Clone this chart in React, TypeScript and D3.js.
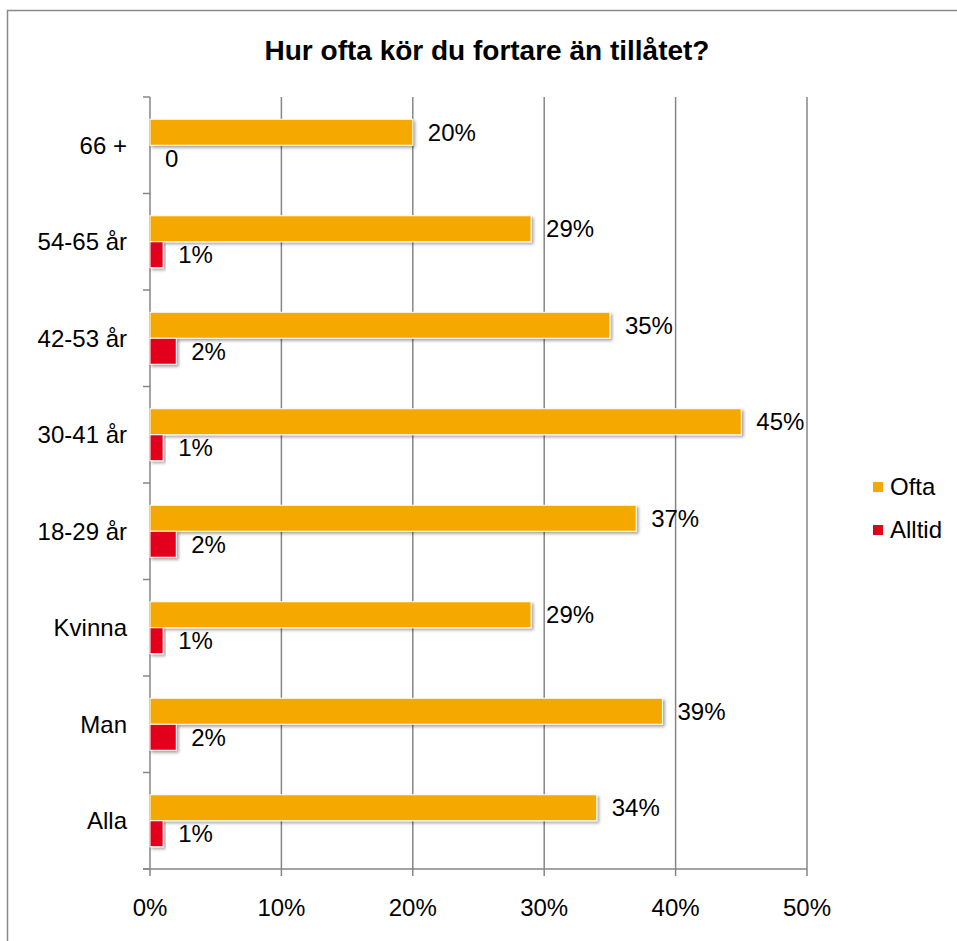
import React from "react";
import * as d3 from "d3";

const categories = ["66 +", "54-65 år", "42-53 år", "30-41 år", "18-29 år", "Kvinna", "Man", "Alla"];
const seriesNames = ["Ofta", "Alltid"];
const oftaValues = [20, 29, 35, 45, 37, 29, 39, 34];
const alltidValues = [0, 1, 2, 1, 2, 1, 2, 1];
const oftaLabels = ["20%", "29%", "35%", "45%", "37%", "29%", "39%", "34%"];
const alltidLabels = ["0", "1%", "2%", "1%", "2%", "1%", "2%", "1%"];
const xTicks = [0, 10, 20, 30, 40, 50];
const xTickLabels = ["0%", "10%", "20%", "30%", "40%", "50%"];
const title = "Hur ofta kör du fortare än tillåtet?";

const colors: Record<string, string> = { Ofta: "#F5A800", Alltid: "#E2001A" };
const FONT = "'Liberation Sans', Arial, sans-serif";

export default function App() {
  const W = 957, H = 941;
  const left = 150, right = 807, top = 97, bottom = 869;
  const x = d3.scaleLinear().domain([0, 50]).range([left, right]);
  const y0 = d3.scaleBand<string>().domain(categories).range([top, bottom]).padding(0);
  const groupH = 52;
  const y1 = d3.scaleBand<string>().domain(seriesNames).range([0, groupH]).padding(0);
  const bw = y0.bandwidth();
  const grid = "#868686";

  const series = [
    { name: "Ofta", values: oftaValues, labels: oftaLabels },
    { name: "Alltid", values: alltidValues, labels: alltidLabels },
  ];

  return (
    <svg width={W} height={H} style={{ position: "absolute", left: 0, top: 0, display: "block", background: "#fff" }} fontFamily={FONT}>
      <defs>
        <filter id="sh" x="-10%" y="-30%" width="130%" height="180%">
          <feDropShadow dx="2" dy="2" stdDeviation="1.5" floodColor="#000" floodOpacity="0.35" />
        </filter>
      </defs>
      <rect x={7.5} y={10.5} width={W + 10} height={H + 10} fill="#fff" stroke="#898989" strokeWidth={1.5} />
      <text x={487} y={60} textAnchor="middle" fontSize={28} fontWeight="bold" fill="#000">{title}</text>

      {/* gridlines */}
      {xTicks.map((t) => (
        <line key={"g" + t} x1={x(t)} x2={x(t)} y1={top} y2={bottom + 7} stroke={grid} strokeWidth={1.5} />
      ))}
      {/* bottom axis */}
      <line x1={left - 7} x2={right} y1={bottom} y2={bottom} stroke={grid} strokeWidth={1.5} />
      {/* category ticks */}
      {d3.range(categories.length + 1).map((i) => (
        <line key={"ct" + i} x1={left - 7} x2={left} y1={top + i * bw} y2={top + i * bw} stroke={grid} strokeWidth={1.5} />
      ))}
      {xTicks.map((t, i) => (
        <text key={"xl" + t} x={x(t)} y={916} textAnchor="middle" fontSize={24} fill="#000">{xTickLabels[i]}</text>
      ))}
      {categories.map((c) => (
        <text key={"cl" + c} x={127} y={(y0(c) as number) + bw / 2} dy="0.35em" textAnchor="end" fontSize={24} fill="#000">{c}</text>
      ))}

      {series.map((s) =>
        categories.map((c, i) => {
          const yy = (y0(c) as number) + (bw - groupH) / 2 + (y1(s.name) as number);
          const h = y1.bandwidth();
          const w = x(s.values[i]) - x(0);
          return (
            <g key={s.name + c}>
              {w > 0 && (
                <rect x={x(0)} y={yy} width={w} height={h} fill={colors[s.name]} stroke="#fff" strokeWidth={1} filter="url(#sh)" />
              )}
              <text x={x(s.values[i]) + 15} y={yy + h / 2} dy="0.35em" fontSize={24} fill="#000">{s.labels[i]}</text>
            </g>
          );
        })
      )}

      {/* legend */}
      {seriesNames.map((n, i) => (
        <g key={"lg" + n} transform={`translate(873, ${487 + i * 43})`}>
          <rect x={0} y={-5} width={10} height={10} fill={colors[n]} />
          <text x={17} y={0} dy="0.35em" fontSize={24} fill="#000">{n}</text>
        </g>
      ))}
    </svg>
  );
}
